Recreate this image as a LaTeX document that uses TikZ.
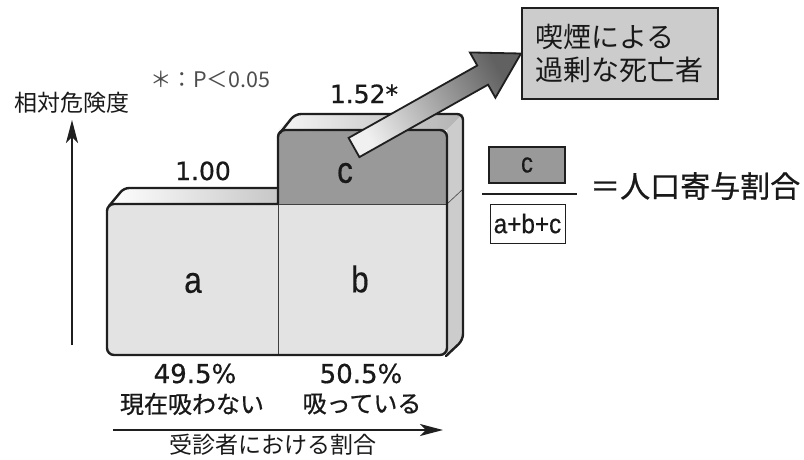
\documentclass[tikz,border=0pt]{standalone}
\usepackage{fontspec}
\setmainfont{Noto Sans CJK JP}
\newfontfamily\medfont[FakeBold=0.8]{Noto Sans CJK JP}
\newfontfamily\numfont[FakeBold=0.6]{DejaVu Sans}
\newfontfamily\letterfont[FakeStretch=0.85, FakeBold=0.4]{Liberation Sans}
\newfontfamily\narrowfont[FakeStretch=0.9, FakeBold=0.5]{Liberation Sans}
\usetikzlibrary{calc,arrows.meta}

\newcommand{\fsize}[1]{\fontsize{#1}{#1}\selectfont}

\begin{document}
\begin{tikzpicture}[%
      x=1pt, y=-1pt,
      outline/.style={color=black!88, line width=2.4pt, line join=round, line cap=round},
      divider/.style={color=black!75, line width=0.6pt},
      label/.style={inner sep=0pt, text=black!90},
      axis/.style={color=black!88, line width=1.6pt, -{Stealth[length=23pt, width=12pt, inset=6pt]}},
      ]
      \useasboundingbox (0,0) rectangle (804,459);

      % top and side faces
      \shade [left color=white, right color=black!22] (107,204) -- (124,188) -- (278,188) -- (278,204) -- cycle;
      \shade [left color=white!96!black, right color=black!30] (278,130) -- (295,114) -- (463,114) -- (447,130) -- cycle;
      \fill [color=black!20] (447,130) -- (463,114) -- (463,340) -- (447,355) -- cycle;
      \draw [divider] (447,204) -- (463,189);

      % front faces
      \fill [color=black!40] (278,204) -- (278,137) arc[start angle=180, end angle=270, radius=7]
            -- (440,130) arc[start angle=270, end angle=360, radius=7] -- (447,204) -- cycle;
      \fill [color=black!11] (447,204) -- (114,204) arc[start angle=270, end angle=180, radius=7]
            -- (107,348) arc[start angle=180, end angle=90, radius=7]
            -- (440,355) arc[start angle=90, end angle=0, radius=7] -- cycle;
      \draw [divider] (278,204) -- (278,355);
      \draw [divider] (278,204) -- (447,204);

      % outlines
      \draw [outline] (278,204) -- (114,204) arc[start angle=270, end angle=180, radius=7]
            -- (107,348) arc[start angle=180, end angle=90, radius=7]
            -- (440,355) arc[start angle=90, end angle=0, radius=7]
            -- (447,137) arc[start angle=0, end angle=-90, radius=7]
            -- (285,130) arc[start angle=270, end angle=180, radius=7] -- cycle;
      \draw [outline, rounded corners=5pt] (109,206) -- (124,188) -- (278,188);
      \draw [outline, rounded corners=6pt] (280,133) -- (295,114) -- (463,114) -- (463,340) -- (446,356);

      % excess deaths
      \node (deathbox) [draw=black!88, line width=2pt, fill=black!20, text width=170pt, inner xsep=13pt,
            minimum height=91pt, align=left, font=\fontsize{28}{33}\selectfont, text=black!90] at (620,53.5)
            {喫煙による\\過剰な死亡者};
      \coordinate (tail) at (354,147.5);
      \coordinate (tip) at (deathbox.west);
      \coordinate (headbase) at ($(tip)!44pt!(tail)$);
      \shadedraw [top color=black!62, bottom color=black!6, shading angle=-60,
            draw=black!88, line width=1.8pt, line join=miter]
            ($(tail)!11pt!90:(tip)$) -- ($(headbase)!11pt!90:(tip)$) -- ($(headbase)!26pt!90:(tip)$)
            -- (tip) -- ($(headbase)!26pt!-90:(tip)$) -- ($(headbase)!11pt!-90:(tip)$)
            -- ($(tail)!11pt!-90:(tip)$) -- cycle;

      % fraction
      \node (cbox) [draw=black!88, line width=1.4pt, fill=black!40, minimum width=76pt, minimum height=36pt,
            font=\letterfont\fsize{28}, text=black!90] at (527,165) {c};
      \node (sumbox) [draw=black!88, line width=1pt, fill=white, minimum width=75pt, minimum height=39pt,
            inner sep=0pt, font=\narrowfont\fsize{27}, text=black!90] at (527.5,223.5) {a+b+c};
      \draw [line width=2pt, color=black!88] (482,194) -- (577,194);
      \node (pafname) [label, anchor=west, font=\medfont\fsize{30}] at (590,186) {＝人口寄与割合};

      % axes
      \coordinate (yfoot) at (72,345);
      \coordinate (yhead) at (72,120);
      \coordinate (xfoot) at (113,430);
      \coordinate (xhead) at (443,430);
      \draw [axis] (yfoot) -- (yhead);
      \draw [axis] (xfoot) -- (xhead);
      \node (ylab) [label, font=\fsize{23}] at (72,103) {相対危険度};
      \node (xlab) [label, font=\fsize{23}] at (273,445) {受診者における割合};

      % labels
      \node (pval) [label, text=black!70, font=\fsize{21.5}, anchor=base] at (210,87) {＊：P＜0.05};
      \node (rr1) [label, font=\numfont\fsize{25}, anchor=base] at (203,180) {1.00};
      \node (rr2) [label, font=\numfont\fsize{25}, anchor=base] at (364,103) {1.52*};
      \node (alab) [label, font=\letterfont\fsize{37}] at (193,283) {a};
      \node (blab) [label, font=\letterfont\fsize{37}] at (360,279) {b};
      \node (clab) [label, font=\letterfont\fsize{37}] at (345,173) {c};
      \node (pct1) [label, font=\numfont\fsize{26}, anchor=base] at (195,383) {49.5\%};
      \node (pct2) [label, font=\numfont\fsize{26}, anchor=base] at (361,383) {50.5\%};
      \node (grp1) [label, font=\medfont\fsize{24}] at (192,404) {現在吸わない};
      \node (grp2) [label, font=\medfont\fsize{24}] at (362,404) {吸っている};
\end{tikzpicture}
\end{document}
